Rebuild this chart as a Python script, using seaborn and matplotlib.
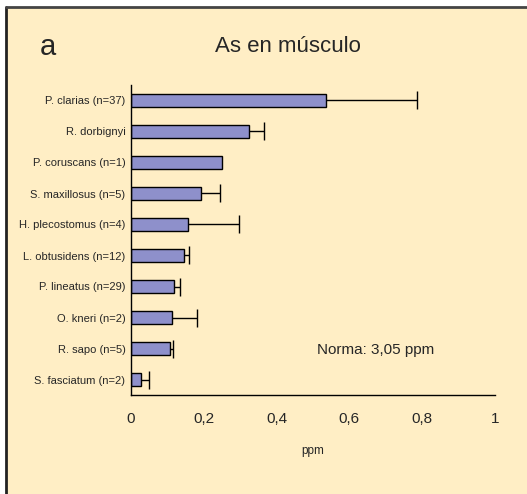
import matplotlib
matplotlib.use("Agg")
import matplotlib.pyplot as plt
import seaborn as sns
import numpy as np
import pandas as pd
from matplotlib.patches import Rectangle
from matplotlib.ticker import FixedLocator, NullFormatter

# ── data ────────────────────────────────────────────────────────────────
species = ["P. clarias (n=37)", "R. dorbignyi", "P. coruscans (n=1)",
           "S. maxillosus (n=5)", "H. plecostomus (n=4)", "L. obtusidens (n=12)",
           "P. lineatus (n=29)", "O. kneri (n=2)", "R. sapo (n=5)",
           "S. fasciatum (n=2)"]
mean_ppm = [0.536, 0.325, 0.250, 0.193, 0.156, 0.145, 0.119, 0.114, 0.108, 0.028]
err_ppm = [0.249, 0.041, 0.0, 0.052, 0.141, 0.014, 0.016, 0.068, 0.008, 0.021]
x_ticks = [0, 0.2, 0.4, 0.6, 0.8, 1]
x_ticklabels = ["0", "0,2", "0,4", "0,6", "0,8", "1"]

BG = "#FFEEC5"
BAR = "#8E90CB"

sns.set_style("white")
plt.rcParams["font.family"] = ["Liberation Sans", "DejaVu Sans"]

df = pd.DataFrame({"species": species, "ppm": mean_ppm})

fig = plt.figure(figsize=(5.27, 4.94), dpi=100)
fig.patch.set_facecolor("white")

# background axes: cream panel with a dark frame on top and left
bg = fig.add_axes([0, 0, 1, 1], zorder=-5)
bg.set_xlim(0, 527)
bg.set_ylim(494, 0)
bg.axis("off")
bg.add_patch(Rectangle((6, 7.5), 530, 500, facecolor=BG, edgecolor="none"))
bg.plot([6, 6], [7.5, 494], color="#222222", lw=2)
bg.plot([6, 527], [7.5, 7.5], color="#444444", lw=2)

ax = fig.add_axes([131 / 527, 99 / 494, 364 / 527, 310 / 494])
ax.set_facecolor("none")

sns.barplot(data=df, x="ppm", y="species", orient="h", color=BAR,
            edgecolor="black", linewidth=1.0, width=0.42, saturation=1, ax=ax)

# one-sided error bars (upper side only)
has_err = np.array(err_ppm) > 0
ypos = np.arange(len(species))
eb = ax.errorbar(np.array(mean_ppm)[has_err], ypos[has_err],
                 xerr=[np.zeros(has_err.sum()), np.array(err_ppm)[has_err]],
                 fmt="none", ecolor="black", elinewidth=1.0, capsize=6.5, capthick=1.0)
eb[1][0].set_visible(False)

ax.set_xlim(0, 1)
ax.set_ylim(len(species) - 0.5, -0.5)
ax.set_xticks(x_ticks)
ax.set_xticklabels(x_ticklabels, fontsize=11)
ax.tick_params(axis="x", direction="out", length=4, width=1, color="black", pad=8)
ax.tick_params(axis="y", which="major", length=0, pad=4, labelsize=8)
ax.yaxis.set_minor_locator(FixedLocator(np.arange(-0.5, len(species), 1.0)))
ax.yaxis.set_minor_formatter(NullFormatter())
ax.tick_params(axis="y", which="minor", direction="out", length=4, width=1, color="black")

for side in ["top", "right"]:
    ax.spines[side].set_visible(False)
for side in ["left", "bottom"]:
    ax.spines[side].set_color("black")
    ax.spines[side].set_linewidth(1.0)

ax.set_ylabel("")
ax.set_xlabel("ppm", fontsize=8.5, labelpad=14)

fig.text(40 / 527, 1 - 47 / 494, "a", fontsize=21, va="center", ha="left")
fig.text(288 / 527, 1 - 47 / 494, "As en músculo", fontsize=16, va="center", ha="center")
ax.text(0.51, 8.05, "Norma: 3,05 ppm", fontsize=11, va="center", ha="left")

fig.savefig("out.png", dpi=100, facecolor=fig.get_facecolor())
